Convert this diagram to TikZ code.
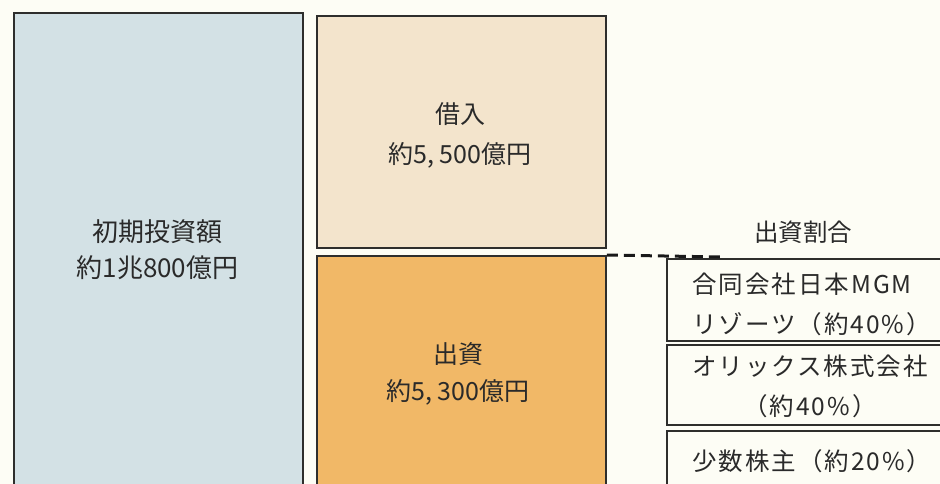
\documentclass[tikz,border=0pt]{standalone}
\usepackage{fontspec}
\setmainfont{Noto Sans CJK JP}
\newfontfamily\rfont[LetterSpace=8]{Noto Sans CJK JP}
\definecolor{bgc}{HTML}{FDFDF5}
\definecolor{bluec}{HTML}{D3E1E5}
\definecolor{beigec}{HTML}{F3E4CC}
\definecolor{orangec}{HTML}{F1B867}
\definecolor{linec}{HTML}{2E2E2C}
\definecolor{txtc}{HTML}{2A2A2A}
\begin{document}
\begin{tikzpicture}[x=1pt,y=-1pt,
  blockbox/.style={draw=linec, line width=1.8pt, rectangle, anchor=north west, inner sep=0pt},
  maintext/.style={text=txtc, align=center},
  sharebox/.style={draw=linec, line width=1.6pt, rectangle, anchor=north west, inner sep=0pt, minimum width=300pt},
  sharetext/.style={text=txtc, font=\rfont\fontsize{24.5}{40}\selectfont}
]
\useasboundingbox (0,0) rectangle (940,484);
\clip (0,0) rectangle (940,484);
\fill[bgc] (0,0) rectangle (940,484);

% main blocks
\node[blockbox, fill=bluec, minimum width=289pt, minimum height=500pt] (total) at (13,12) {};
\node[blockbox, fill=beigec, minimum width=289pt, minimum height=232pt] (loan) at (316,15) {};
\node[blockbox, fill=orangec, minimum width=289pt, minimum height=260pt] (equity) at (316,255) {};

\node[maintext, font=\fontsize{26}{36}\selectfont] (totaltxt) at (157.5,250) {初期投資額\\約1兆800億円};
\node[maintext, font=\fontsize{25}{40}\selectfont] (loantxt) at (460,135) {借入\\約5, 500億円};
\node[maintext, font=\fontsize{25}{37}\selectfont] (equitytxt) at (458,373.5) {出資\\約5, 300億円};

% share ratio
\node[text=txtc, font=\fontsize{24.5}{28}\selectfont] (ratiohead) at (803,232) {出資割合};

\node[sharebox, minimum height=82pt] (s1) at (666,258) {};
\node[sharebox, minimum height=80pt] (s2) at (666,344) {};
\node[sharebox, minimum height=80pt] (s3) at (666,430) {};

\node[sharetext, anchor=west, align=left] (s1txt) at (689,304) {合同会社日本MGM\\リゾーツ（約40\%）};
\node[sharetext, align=center] (s2txt) at (810,386) {オリックス株式会社\\（約40\%）};
\node[sharetext, anchor=west] (s3txt) at (689,461) {少数株主（約20\%）};

\coordinate (dashend) at (722,257);
\draw[black!90, line width=3pt, dash pattern=on 11pt off 6pt] (equity.north east) -- (dashend);
\end{tikzpicture}
\end{document}
